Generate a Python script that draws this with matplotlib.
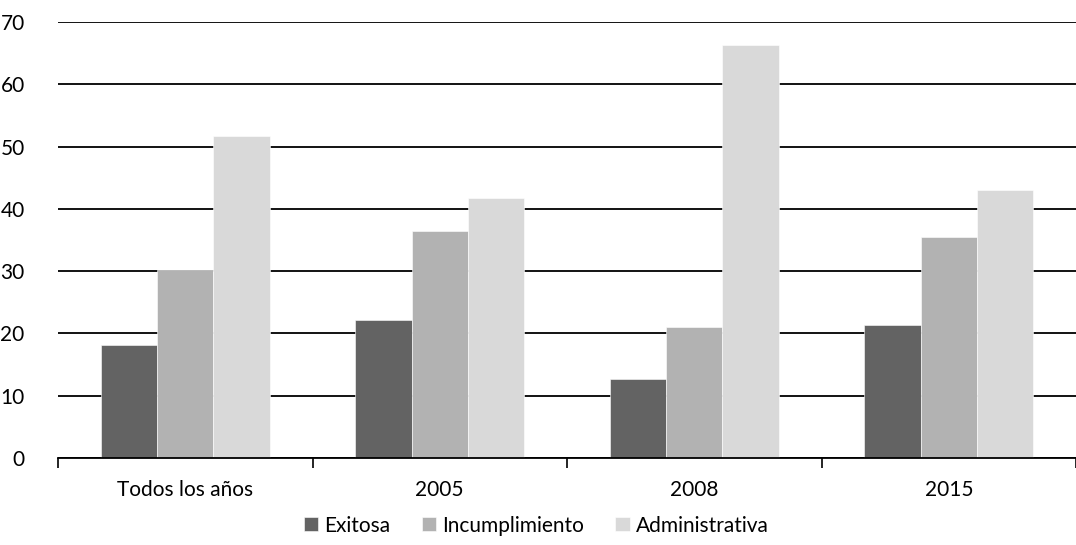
import numpy as np
import matplotlib
matplotlib.use("Agg")
import matplotlib.pyplot as plt

# ── Data ────────────────────────────────────────────────────────────────────
categories = ["Todos los años", "2005", "2008", "2015"]
series_names = ["Exitosa", "Incumplimiento", "Administrativa"]
exitosa = [18.2, 22.1, 12.7, 21.3]
incumplimiento = [30.2, 36.4, 21.0, 35.5]
administrativa = [51.7, 41.7, 66.3, 43.1]
y_ticks = [0, 10, 20, 30, 40, 50, 60, 70]

colors = ["#636363", "#b2b2b2", "#d9d9d9"]

plt.rcParams["font.family"] = ["Lato", "DejaVu Sans"]

fig = plt.figure(figsize=(10.76, 5.45), dpi=100)
ax = fig.add_axes([58 / 1076, 1 - 458 / 545, 1 - 58 / 1076, 436 / 545])

x = np.arange(len(categories))
width = 0.222
for i, (vals, name) in enumerate(zip([exitosa, incumplimiento, administrativa], series_names)):
    ax.bar(x + (i - 1) * width, vals, width, color=colors[i], label=name,
           edgecolor="white", linewidth=0.4, zorder=3)

ax.set_ylim(0, 70)
ax.set_xlim(-0.5, 3.45)
ax.set_yticks(y_ticks)
ax.yaxis.grid(True, color="black", linewidth=1.3, zorder=1)
ax.tick_params(axis="y", length=0, labelsize=15, pad=24)

# category separators on the x axis
ax.set_xticks(np.arange(len(categories) + 1) - 0.5)
ax.set_xticklabels([])
ax.set_xticks(x, minor=True)
ax.set_xticklabels(categories, minor=True)
ax.tick_params(axis="x", which="major", direction="out", length=7, width=1.2)
ax.tick_params(axis="x", which="minor", length=0, labelsize=15, pad=16)

for side in ["top", "right", "left"]:
    ax.spines[side].set_visible(False)
ax.spines["bottom"].set_linewidth(1.3)
ax.spines["bottom"].set_zorder(4)

ax.legend(loc="center", bbox_to_anchor=(0.47, -0.155),
          ncol=3, frameon=False, fontsize=15, handlelength=0.68, handleheight=0.68,
          handletextpad=0.3, columnspacing=1.5)

fig.savefig("out.png", dpi=100)
